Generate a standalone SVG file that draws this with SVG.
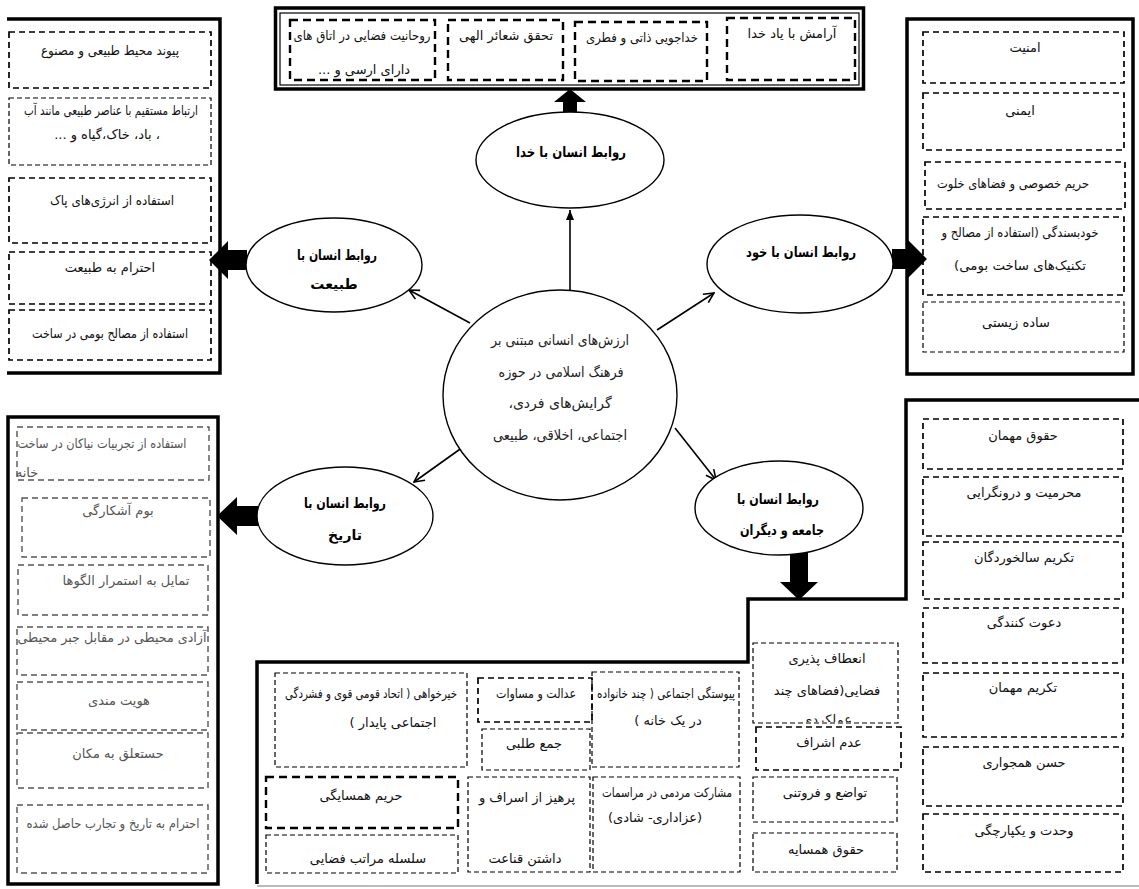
<svg xmlns="http://www.w3.org/2000/svg" width="1139" height="889" viewBox="0 0 1139 889">
<style>
.frame{fill:none;stroke:#000;stroke-width:3.5}
.thin{fill:none;stroke:#000;stroke-width:1.2}
.dk{fill:none;stroke:#000;stroke-width:2.4;stroke-dasharray:8 5}
.dm{fill:none;stroke:#000;stroke-width:1.7;stroke-dasharray:6 4}
.dt{fill:none;stroke:#000;stroke-width:1.2;stroke-dasharray:5 3}
.dg{fill:none;stroke:#555;stroke-width:1.4;stroke-dasharray:6 4}
.t{font-family:"DejaVu Sans",sans-serif;font-size:13px;fill:#111;text-anchor:middle;direction:rtl}
.g{fill:#555}
.b{font-weight:bold;font-size:14px;fill:#000}
.c{font-size:14px;fill:#222}
.ell{fill:#fff;stroke:#000;stroke-width:1.4}
.conn{stroke:#000;stroke-width:1.6;fill:none}
.blk{fill:#000}
</style>
<defs>
<marker id="open" viewBox="0 0 12 12" refX="11" refY="6" markerWidth="12" markerHeight="12" markerUnits="userSpaceOnUse" orient="auto">
<path d="M1,1 L11,6 L1,11" fill="none" stroke="#000" stroke-width="1.6"/>
</marker>
<marker id="fill" viewBox="0 0 10 10" refX="10" refY="5" markerWidth="10" markerHeight="10" markerUnits="userSpaceOnUse" orient="auto">
<path d="M0,1 L10,5 L0,9 Z" fill="#000"/>
</marker>
<clipPath id="clipI"><rect x="740" y="640" width="170" height="82"/></clipPath>
</defs>

<g id="connectors">
<line class="conn" x1="570" y1="291" x2="570" y2="210" marker-end="url(#fill)"/>
<line class="conn" x1="470" y1="323" x2="409" y2="290" marker-end="url(#open)"/>
<line class="conn" x1="657" y1="330" x2="714" y2="293" marker-end="url(#open)"/>
<line class="conn" x1="470" y1="442" x2="414" y2="482" marker-end="url(#open)"/>
<line class="conn" x1="675" y1="428" x2="716" y2="480" marker-end="url(#open)"/>
<polygon class="blk" points="563,114 563,102 554,102 570,89 586,102 577,102 577,114"/>
<polygon class="blk" points="247,250 228,250 228,241 209,260 228,279 228,270 247,270"/>
<polygon class="blk" points="892,249 908,249 908,240 927,259 908,278 908,269 892,269"/>
<polygon class="blk" points="258,506 237,506 237,497 217,516 237,535 237,526 258,526"/>
<polygon class="blk" points="790,552 808,552 808,582 818,582 799,600 780,582 790,582"/>
</g>

<g id="center">
<ellipse class="ell" cx="560" cy="395" rx="117" ry="105"/>
<text class="t c" x="560" y="345" textLength="138" lengthAdjust="spacingAndGlyphs">ارزش‌های انسانی مبتنی بر</text>
<text class="t c" x="561" y="377" textLength="125" lengthAdjust="spacingAndGlyphs">فرهنگ اسلامی در حوزه</text>
<text class="t c" x="560" y="408">گرایش‌های فردی،</text>
<text class="t c" x="560" y="440" textLength="134" lengthAdjust="spacingAndGlyphs">اجتماعی، اخلاقی، طبیعی</text>
</g>

<g id="node-god">
<ellipse class="ell" cx="570" cy="160" rx="94" ry="48"/>
<text class="t b" x="571" y="157" textLength="110" lengthAdjust="spacingAndGlyphs">روابط انسان با خدا</text>
</g>
<g id="node-nature">
<ellipse class="ell" cx="334" cy="265" rx="88" ry="47"/>
<text class="t b" x="337" y="260" textLength="80" lengthAdjust="spacingAndGlyphs">روابط انسان با</text>
<text class="t b" x="334" y="289">طبیعت</text>
</g>
<g id="node-self">
<ellipse class="ell" cx="800" cy="264" rx="93" ry="49"/>
<text class="t b" x="801" y="257" textLength="110" lengthAdjust="spacingAndGlyphs">روابط انسان با خود</text>
</g>
<g id="node-history">
<ellipse class="ell" cx="345" cy="516" rx="88" ry="49"/>
<text class="t b" x="345" y="508" textLength="82" lengthAdjust="spacingAndGlyphs">روابط انسان با</text>
<text class="t b" x="345" y="540">تاریخ</text>
</g>
<g id="node-society">
<ellipse class="ell" cx="779" cy="508" rx="84" ry="47"/>
<text class="t b" x="778" y="504" textLength="82" lengthAdjust="spacingAndGlyphs">روابط انسان با</text>
<text class="t b" x="782" y="535" textLength="84" lengthAdjust="spacingAndGlyphs">جامعه و دیگران</text>
</g>

<g id="box-god">
<rect class="frame" x="275.5" y="8" width="588" height="81"/>
<rect class="thin" x="280" y="13" width="579" height="72"/>
<rect class="dk" x="290" y="20" width="145" height="60"/>
<text class="t" x="362" y="40" textLength="137" lengthAdjust="spacingAndGlyphs">روحانیت فضایی در اتاق های</text>
<text class="t" x="364" y="74">دارای ارسی و ...</text>
<rect class="dk" x="448" y="20" width="115" height="60"/>
<text class="t" x="506" y="40">تحقق شعائر الهی</text>
<rect class="dk" x="575" y="22" width="132" height="59"/>
<text class="t" x="642" y="42" textLength="112" lengthAdjust="spacingAndGlyphs">خداجویی ذاتی و فطری</text>
<rect class="dk" x="727" y="18" width="128" height="62"/>
<text class="t" x="792" y="38">آرامش با یاد خدا</text>
</g>

<g id="box-nature">
<path class="frame" d="M7,19 H220 V373 H7"/>
<rect class="dm" x="9" y="32" width="202" height="56"/>
<text class="t" x="110" y="55" textLength="138" lengthAdjust="spacingAndGlyphs">پیوند محیط طبیعی و مصنوع</text>
<rect class="dt" x="9" y="98" width="202" height="67"/>
<text class="t" x="111" y="115" textLength="174" lengthAdjust="spacingAndGlyphs">ارتباط مستقیم با عناصر طبیعی مانند آب</text>
<text class="t" x="107" y="139">، باد، خاک،گیاه و ...</text>
<rect class="dm" x="9" y="178" width="202" height="65"/>
<text class="t" x="112" y="205" textLength="124" lengthAdjust="spacingAndGlyphs">استفاده از انرژی‌های پاک</text>
<rect class="dm" x="9" y="252" width="202" height="52"/>
<text class="t" x="110" y="272">احترام به طبیعت</text>
<rect class="dm" x="9" y="310" width="202" height="50"/>
<text class="t" x="110" y="338" textLength="156" lengthAdjust="spacingAndGlyphs">استفاده از مصالح بومی در ساخت</text>
</g>

<g id="box-self">
<rect class="frame" x="907" y="19" width="226" height="355"/>
<rect class="dm" x="923" y="32" width="201" height="51"/>
<text class="t" x="1025" y="52">امنیت</text>
<rect class="dm" x="923" y="93" width="201" height="57"/>
<text class="t" x="1020" y="115">ایمنی</text>
<rect class="dm" x="925" y="162" width="200" height="47"/>
<text class="t" x="1013" y="188" textLength="152" lengthAdjust="spacingAndGlyphs">حریم خصوصی و فضاهای خلوت</text>
<rect class="dm" x="923" y="217" width="201" height="78"/>
<text class="t" x="1020" y="237" textLength="157" lengthAdjust="spacingAndGlyphs">خودبسندگی (استفاده از مصالح و</text>
<text class="t" x="1020" y="270" textLength="132" lengthAdjust="spacingAndGlyphs">تکنیک‌های ساخت بومی)</text>
<rect class="dt" x="923" y="302" width="201" height="50"/>
<text class="t" x="1016" y="327">ساده زیستی</text>
</g>

<g id="box-history">
<rect class="frame" x="8" y="417" width="210" height="467"/>
<rect class="dg" x="17" y="427" width="192" height="53"/>
<text class="t g" x="102" y="448" textLength="169" lengthAdjust="spacingAndGlyphs">استفاده از تجربیات نیاکان در ساخت</text>
<text class="t g" x="27" y="477">خانه</text>
<rect class="dg" x="22" y="498" width="188" height="59"/>
<text class="t g" x="118" y="515">بوم آشکارگی</text>
<rect class="dg" x="18" y="565" width="190" height="50"/>
<text class="t g" x="126" y="585">تمایل به استمرار الگوها</text>
<rect class="dg" x="17" y="627" width="191" height="48"/>
<text class="t g" x="112" y="642" textLength="189" lengthAdjust="spacingAndGlyphs">آزادی محیطی در مقابل جبر محیطی</text>
<rect class="dg" x="17" y="682" width="191" height="48"/>
<text class="t g" x="119" y="705">هویت مندی</text>
<rect class="dg" x="17" y="733" width="191" height="55"/>
<text class="t g" x="118" y="758">حستعلق به مکان</text>
<rect class="dg" x="17" y="805" width="191" height="68"/>
<text class="t g" x="113" y="828" textLength="173" lengthAdjust="spacingAndGlyphs">احترام به تاریخ و تجارب حاصل شده</text>
</g>

<g id="box-society">
<path class="frame" d="M1145,400 H906 V599 H748 V662 H257 V884"/>
<line x1="257" y1="886" x2="1139" y2="886" stroke="#bbb" stroke-width="2"/>
<rect class="dm" x="923" y="419" width="200" height="50"/>
<text class="t" x="1023" y="440">حقوق مهمان</text>
<rect class="dm" x="923" y="477" width="200" height="59"/>
<text class="t" x="1024" y="497">محرمیت و درونگرایی</text>
<rect class="dm" x="923" y="542" width="200" height="57"/>
<text class="t" x="1024" y="562">تکریم سالخوردگان</text>
<rect class="dm" x="923" y="608" width="200" height="55"/>
<text class="t" x="1024" y="627">دعوت کنندگی</text>
<rect class="dm" x="923" y="673" width="200" height="64"/>
<text class="t" x="1023" y="692">تکریم مهمان</text>
<rect class="dm" x="923" y="747" width="200" height="59"/>
<text class="t" x="1024" y="767">حسن همجواری</text>
<rect class="dm" x="923" y="814" width="200" height="58"/>
<text class="t" x="1024" y="835">وحدت و یکپارچگی</text>

<rect class="dt" x="753" y="643" width="145" height="80"/>
<text class="t" x="827" y="663">انعطاف پذیری</text>
<text class="t" x="827" y="695">فضایی(فضاهای چند</text>
<text class="t" x="827" y="724" clip-path="url(#clipI)">عملکردی</text>
<rect class="dm" x="756" y="727" width="145" height="43"/>
<text class="t" x="829" y="747">عدم اشراف</text>
<rect class="dt" x="753" y="777" width="144" height="45"/>
<text class="t" x="825" y="797">تواضع و فروتنی</text>
<rect class="dt" x="753" y="833" width="144" height="39"/>
<text class="t" x="826" y="854">حقوق همسایه</text>

<rect class="dt" x="275" y="673" width="192" height="94"/>
<text class="t" x="371" y="698" textLength="172" lengthAdjust="spacingAndGlyphs">خیرخواهی ( اتحاد قومی قوی و فشردگی</text>
<text class="t" x="393" y="727">اجتماعی پایدار  )</text>
<rect class="dm" x="478" y="678" width="114" height="44"/>
<text class="t" x="536" y="698" textLength="80" lengthAdjust="spacingAndGlyphs">عدالت و مساوات</text>
<rect class="dt" x="482" y="729" width="108" height="41"/>
<text class="t" x="534" y="748">جمع طلبی</text>
<rect class="dt" x="592" y="672" width="147" height="95"/>
<text class="t" x="666" y="698" textLength="138" lengthAdjust="spacingAndGlyphs">پیوستگی اجتماعی ( چند خانواده</text>
<text class="t" x="668" y="725">در یک خانه )</text>
<rect class="dk" x="266" y="777" width="192" height="51"/>
<text class="t" x="361" y="800">حریم همسایگی</text>
<rect class="dt" x="266" y="835" width="192" height="38"/>
<text class="t" x="368" y="863">سلسله مراتب فضایی</text>
<rect class="dt" x="468" y="777" width="122" height="95"/>
<text class="t" x="527" y="802">پرهیز از اسراف و</text>
<text class="t" x="525" y="863">داشتن قناعت</text>
<rect class="dt" x="593" y="777" width="147" height="95"/>
<text class="t" x="667" y="797" textLength="130" lengthAdjust="spacingAndGlyphs">مشارکت مردمی در مراسمات</text>
<text class="t" x="655" y="822">(عزاداری- شادی)</text>
</g>
</svg>
